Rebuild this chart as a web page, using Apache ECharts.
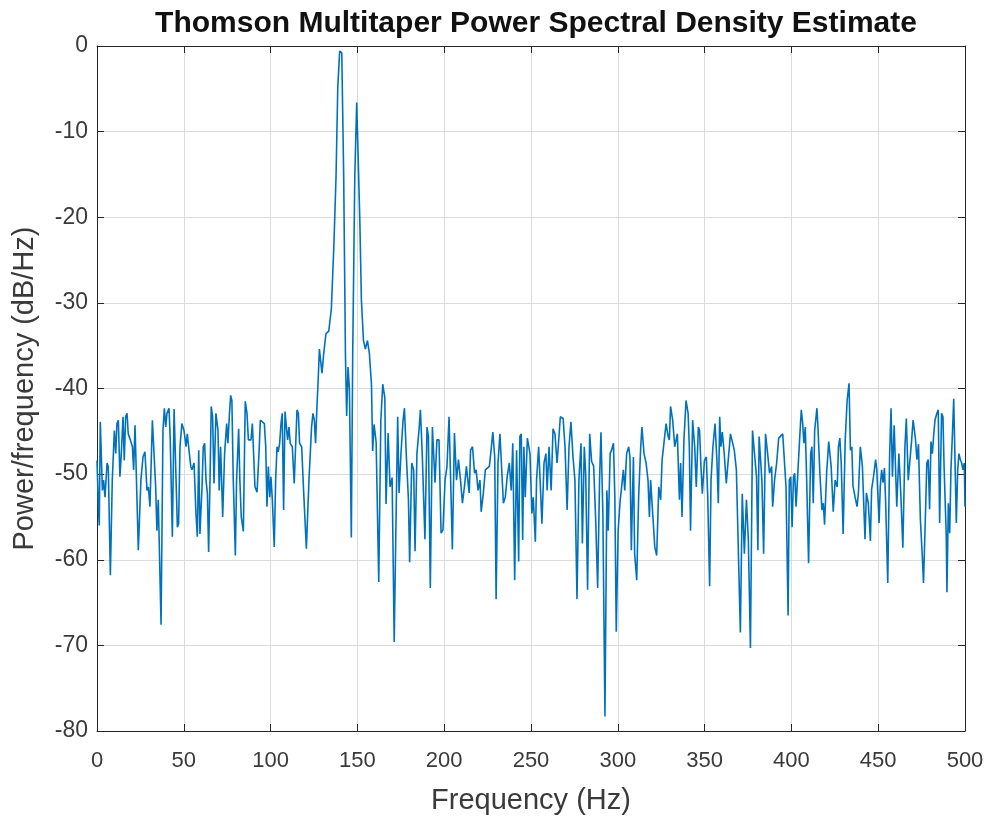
<!DOCTYPE html>
<html>
<head>
<meta charset="utf-8">
<script src="https://cdn.jsdelivr.net/npm/echarts@6/dist/echarts.min.js"></script>
<style>
html,body{margin:0;padding:0;background:#fff;}
#chart{width:989px;height:818px;}
</style>
</head>
<body>
<div id="chart"></div>
<script>
// Frequency (Hz) of each traced point
var freqs = [
0,0.8,1.3,1.9,3.1,3.8,4.6,5.8,6.5,7.7,8.8,10.0,10.8,11.5,12.3,13.2,13.8,15.0,15.7,16.5,17.3,18.0,19.2,20.4,21.1,21.9,22.7,23.8,25.3,26.5,27.6,28.8,29.6,30.5,31.9,32.6,33.8,34.5,35.3,36.9,38.0,38.8,39.6,40.3,41.5,42.2,43.4,44.4,45.1,
46.3,47.0,47.8,48.9,50.1,51.3,52.0,52.8,54.0,54.7,55.9,57.0,57.8,58.6,59.3,60.5,61.2,62.0,62.8,63.6,64.3,65.1,65.8,66.6,67.4,68.5,69.7,70.4,71.2,72.4,73.5,74.7,75.4,76.2,77.0,77.7,78.5,79.7,80.4,81.6,82.3,83.1,84.3,85.4,
86.4,87.2,87.9,88.7,89.5,90.2,91.0,92.2,93.3,94.1,95.2,96.4,97.2,97.9,98.7,99.5,100.2,101.0,102.1,102.9,103.7,104.4,105.2,106.0,106.7,107.5,108.3,109.0,109.8,110.6,111.3,112.5,113.6,114.4,115.2,116.0,116.7,117.9,119.0,120.6,122.1,123.6,124.4,125.2,125.9,126.7,127.4,
128.1,129.6,130.6,131.9,133.5,135.0,136.5,137.7,138.7,139.8,141.0,142.1,143.1,143.8,144.6,145.4,146.5,147.3,148.5,149.6,150.4,151.4,152.3,153.5,154.6,155.8,156.9,158.1,158.8,159.6,160.8,162.3,163.5,164.6,165.8,166.5,167.7,168.8,170.0,171.2,
172.4,173.2,174.0,175.1,176.3,177.1,178.2,179.4,180.1,181.3,182.4,183.2,184.3,185.5,186.3,187.4,188.9,190.1,190.9,192.0,193.2,193.9,194.7,195.8,197.0,198.2,199.3,200.5,201.6,202.8,203.6,204.7,205.9,207.1,208.2,209.4,210.5,211.7,212.8,213.6,214.4,215.2,216.3,217.5,
218.4,219.5,220.6,221.3,222.5,223.7,224.8,226.0,226.8,228.0,229.1,229.9,231.0,232.1,232.9,234.1,235.2,236.3,237.5,238.6,239.5,240.6,241.7,242.9,243.6,244.4,245.2,245.9,246.7,247.9,248.6,249.4,250.5,251.3,252.5,253.2,254.4,255.5,256.3,257.5,258.6,
259.3,260.4,261.6,262.7,263.8,265.0,265.7,266.9,268.5,269.6,270.8,271.9,273.0,274.2,275.3,276.5,277.6,278.8,279.6,280.7,281.5,282.6,283.8,284.9,286.1,287.2,288.4,289.5,290.3,291.4,292.6,293.7,294.5,295.6,296.4,297.5,298.3,299.1,300.2,301.4,
302.0,303.2,304.0,305.1,306.3,307.0,307.8,309.0,309.7,310.9,312.0,313.2,313.9,315.1,316.3,317.4,318.2,318.9,320.1,321.3,322.4,323.6,324.7,325.5,326.6,327.8,329.0,329.7,330.4,331.6,332.8,334.3,335.5,336.2,337.0,338.1,339.3,340.5,341.2,341.9,343.1,344.3,
345.2,346.4,347.1,347.9,348.7,349.9,351.0,351.8,352.9,353.7,354.8,356.0,357.1,357.9,358.7,359.4,360.2,361.3,362.5,363.6,364.9,366.0,367.1,368.3,369.4,370.6,371.7,372.9,374.1,375.2,376.4,377.6,378.7,379.9,380.7,381.4,382.2,383.0,384.0,385.1,386.3,387.4,388.6,
389.2,390.3,391.5,392.7,393.8,395.0,396.1,396.9,398.1,398.8,399.6,400.4,401.2,401.9,402.7,403.8,404.9,405.7,406.5,407.2,408.0,408.8,409.9,411.1,411.8,412.6,413.4,414.7,415.3,416.4,417.6,418.4,419.1,420.3,421.5,422.2,422.9,424.1,425.2,426.4,427.1,427.9,428.7,429.8,
431.0,432.1,433.2,434.0,434.8,435.5,436.6,437.8,438.6,439.7,440.9,441.6,442.4,443.2,444.3,445.5,446.2,447.3,448.5,449.2,450.5,451.2,452.0,452.8,453.6,454.3,455.5,456.6,457.4,458.2,459.2,460.0,460.7,461.9,463.0,464.2,465.4,
466.2,467.3,468.3,469.2,470.1,470.8,471.5,472.3,473.2,474.3,475.4,476.1,477.3,478.0,478.8,479.6,480.4,481.2,481.9,482.7,483.8,484.6,485.4,486.5,487.3,488.0,489.2,489.6,490.4,491.2,491.9,492.7,493.5,494.2,495.0,495.8,496.5,497.3,498.1,498.8,499.6,500
];
// Power/frequency (dB/Hz)
var psd = [
-48.4,-53.8,-56,-43.9,-51.9,-50.7,-52.7,-48.7,-49.1,-61.8,-50.7,-44.9,-47.6,-44.1,-43.7,-50.3,-48.4,-43.3,-48.4,-43.3,-42.9,-45.3,-46.0,-46.8,-49.5,-44.3,-44.5,-58.9,-50.7,-48.0,-47.4,-51.9,-51.5,-53.8,-43.7,-43.5,-51.5,-56.6,-53.0,-67.6,-44.9,-42.3,-44.5,-42.9,-42.3,-46.0,-57.3,-42.4,-42.5,
-56.2,-55.8,-46.8,-44.1,-44.9,-46.8,-45.3,-46.8,-49.1,-49.5,-48.7,-54.6,-57.3,-47.2,-57.0,-51.5,-46.8,-46.4,-50.7,-52.3,-59.1,-50.7,-42.1,-43.3,-51.1,-42.9,-44.9,-51.9,-46.8,-55.0,-47.6,-44.1,-46.4,-43.3,-40.8,-41.4,-50.7,-59.5,-50.7,-44.7,-50.7,-55.0,-56.7,-41.5,
-42.9,-46.0,-45.8,-46.0,-44.1,-44.1,-51.5,-52.1,-47.6,-43.7,-43.9,-44.1,-46.8,-53.8,-49.1,-52.7,-50.3,-53.0,-58.5,-50.7,-46.8,-47.4,-46.4,-44.1,-42.9,-54.2,-42.7,-42.5,-46.0,-44.5,-46.4,-46.8,-51.1,-51.3,-42.5,-42.9,-46.4,-46.8,-51.9,-58.7,-50.7,-44.5,-42.9,-43.7,-46.4,-42.1,-39.0,
-35.4,-38.2,-35.9,-33.6,-33.3,-30.7,-23.0,-15.2,-4.8,-0.6,-0.8,-15.2,-35.9,-43.2,-37.5,-40.1,-57.4,-35.9,-15.2,-6.6,-6.8,-20.4,-29.7,-34.4,-35.4,-34.4,-35.9,-39.5,-47.3,-44.2,-46.3,-62.6,-43.7,-39.5,-41.1,-53.5,-45.2,-51.5,-50.4,-69.6,
-53.4,-43.3,-52.2,-47.6,-43.7,-42.3,-47.9,-53.0,-60.3,-48.7,-49.5,-59.0,-47.6,-44.8,-42.5,-47.9,-57.6,-44.5,-45.6,-63.3,-44.5,-44.7,-51.0,-46.0,-46.0,-56.9,-56.5,-50.7,-49.1,-43.3,-43.3,-58.8,-45.2,-50.7,-48.3,-50.7,-53.4,-51.4,-49.1,-50.7,-52.2,-47.2,-46.8,-49.9,
-49.5,-51.9,-50.7,-54.4,-52.3,-49.5,-49.5,-49.1,-47.6,-45.1,-48.0,-64.6,-48.7,-45.3,-45.3,-53.4,-52.7,-50.3,-48.7,-51.9,-46.4,-62.4,-47.2,-60.2,-45.6,-45.3,-57.7,-46.8,-52.7,-45.8,-46.0,-47.6,-54.6,-52.7,-57.9,-50.7,-46.8,-51.9,-55.8,-48.7,-47.6,
-51.9,-46.8,-51.9,-44.7,-45.3,-48.7,-46.8,-43.3,-43.5,-46.8,-54.2,-46.8,-43.9,-48.0,-50.7,-64.6,-50.7,-46.4,-58.1,-46.8,-49.9,-63.5,-45.3,-48.5,-49.1,-55.0,-63.3,-50.7,-45.1,-54.6,-78.3,-51.9,-56.6,-47.6,-47.2,-46.4,-52.7,-68.4,-56.6,-53.0,
-51.9,-49.5,-51.9,-47.6,-46.8,-48.0,-58.9,-48.0,-59.3,-62.4,-52.7,-46.8,-44.5,-47.6,-48.7,-50.7,-55.0,-50.7,-54.6,-58.5,-59.5,-51.5,-53.0,-48.4,-48.4,-44.1,-45.6,-46.0,-42.1,-43.7,-46.8,-45.3,-53.0,-48.7,-55.0,-46.0,-41.4,-42.9,-46.8,-56.6,-43.7,-46.8,
-51.5,-44.5,-44.9,-49.1,-52.3,-48.4,-48.0,-52.7,-63.1,-50.7,-46.8,-44.1,-48.4,-53.4,-43.3,-46.8,-45.1,-47.6,-51.1,-48.4,-45.3,-45.1,-47.2,-49.5,-49.5,-68.5,-52.3,-59.3,-53.0,-57.7,-70.3,-44.9,-45.1,-50.3,-58.9,-45.6,-45.4,-50.7,-59.3,-45.3,-47.6,-49.9,-49.1,
-53.8,-50.7,-48.7,-45.8,-45.6,-45.3,-45.1,-51.5,-66.5,-50.7,-50.3,-56.2,-50.3,-49.9,-53.8,-49.5,-45.3,-42.5,-44.1,-46.4,-44.5,-50.7,-60.4,-47.6,-46.8,-53.4,-44.9,-42.3,-44.5,-49.9,-54.2,-53.4,-55.9,-49.9,-46.2,-46.0,-49.1,-54.4,-50.7,-51.5,-46.8,-45.8,-48.7,-57.0,
-46.0,-41.4,-39.4,-47.2,-46.8,-51.4,-52.6,-53.8,-52.2,-46.8,-49.1,-49.1,-57.6,-52.2,-53.4,-57.8,-51.8,-50.3,-48.3,-49.5,-55.7,-51.4,-49.5,-51.0,-49.3,-53.4,-62.7,-47.6,-42.3,-50.3,-44.3,-44.1,-53.8,-47.6,-52.2,-58.6,-46.8,
-43.5,-50.7,-50.8,-46.2,-43.7,-44.8,-46.0,-48.3,-46.5,-55.3,-59.6,-62.7,-54.1,-48.7,-48.3,-54.1,-46.2,-47.6,-45.6,-43.7,-42.9,-42.5,-55.7,-42.9,-43.3,-49.5,-57.2,-63.8,-53.4,-56.9,-49.5,-45.6,-41.2,-41.4,-55.7,-49.5,-47.6,-48.3,-48.7,-49.5,-48.7,-53.8
];
var xTicks = {min: 0, max: 500, step: 50};
var yTicks = {min: -80, max: 0, step: 10};

var seriesData = freqs.map(function (f, i) { return [f, psd[i]]; });

var FONT = '"Liberation Sans", Arial, Helvetica, sans-serif';
var AX = '#262626';
var TXT = '#3a3a3a';
var chart = echarts.init(document.getElementById('chart'), null, {renderer: 'canvas'});

function boxAxis(pos, isX) {
  var t = isX ? xTicks : yTicks;
  return {
    type: 'value', position: pos,
    min: t.min, max: t.max, interval: t.step,
    axisLine: {show: true, onZero: false, lineStyle: {color: AX, width: 1}},
    axisTick: {show: true, inside: true, length: 7, lineStyle: {color: AX}},
    axisLabel: {show: false},
    splitLine: {show: false}
  };
}

chart.setOption({
  animation: false,
  backgroundColor: '#ffffff',
  title: {
    text: 'Thomson Multitaper Power Spectral Density Estimate',
    left: 531, top: 4, textAlign: 'center',
    textStyle: {fontFamily: FONT, fontSize: 30, fontWeight: 'bold', color: '#111111'}
  },
  grid: {left: 97, right: 24, top: 46, bottom: 87, containLabel: false, outerBoundsMode: 'none'},
  xAxis: [{
    type: 'value', position: 'bottom',
    min: xTicks.min, max: xTicks.max, interval: xTicks.step,
    name: 'Frequency (Hz)', nameLocation: 'middle', nameGap: 55,
    nameTextStyle: {fontFamily: FONT, fontSize: 29, color: TXT},
    axisLine: {show: true, onZero: false, lineStyle: {color: AX, width: 1}},
    axisTick: {show: true, inside: true, length: 7, lineStyle: {color: AX}},
    axisLabel: {fontFamily: FONT, fontSize: 22, color: TXT, margin: 19},
    splitLine: {show: true, lineStyle: {color: '#dcdcdc', width: 1}}
  }, boxAxis('top', true)],
  yAxis: [{
    type: 'value', position: 'left',
    min: yTicks.min, max: yTicks.max, interval: yTicks.step,
    name: 'Power/frequency (dB/Hz)', nameLocation: 'middle', nameGap: 58,
    nameTextStyle: {fontFamily: FONT, fontSize: 29, color: TXT},
    axisLine: {show: true, onZero: false, lineStyle: {color: AX, width: 1}},
    axisTick: {show: true, inside: true, length: 7, lineStyle: {color: AX}},
    axisLabel: {fontFamily: FONT, fontSize: 23, color: TXT, margin: 9},
    splitLine: {show: true, lineStyle: {color: '#dcdcdc', width: 1}}
  }, boxAxis('right', false)],
  series: [{
    type: 'line',
    data: seriesData,
    showSymbol: false,
    symbol: 'none',
    lineStyle: {color: '#0072BD', width: 1.6},
    itemStyle: {color: '#0072BD'},
    xAxisIndex: 0, yAxisIndex: 0
  }]
});
</script>
</body>
</html>
